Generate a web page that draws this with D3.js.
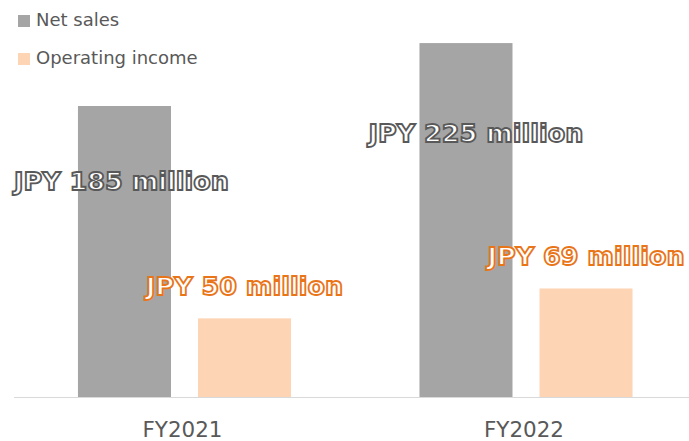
<!DOCTYPE html>
<html>
<head>
<meta charset="utf-8">
<script src="https://cdn.jsdelivr.net/npm/d3@7"></script>
<style>
  body { margin: 0; background: #fff; }
  svg { display: block; }
</style>
</head>
<body>
<svg id="chart"></svg>
<script>
// data
const categories = ['FY2021', 'FY2022'];
const seriesNames = ['Net sales', 'Operating income'];
const netSales = [185, 225];
const operatingIncome = [50, 69];
const labelTexts = [
  ['JPY 185 million', 'JPY 50 million'],
  ['JPY 225 million', 'JPY 69 million'],
];

// layout
const width = 689;
const height = 441;
const baseY = 397;
const colors = ['#a5a5a5', '#fdd5b4'];
const labelStroke = ['#595959', '#e97519'];
// manual label placement, relative to bar top (dx, dy)
const labelOffsets = [
  [[-3, 84], [0, -23]],
  [[10, 99], [0, -23]],
];

const svg = d3.select('#chart')
  .attr('width', width)
  .attr('height', height);

const x0 = d3.scaleBand()
  .domain(categories)
  .range([13.75, 696.75]);

const x1 = d3.scaleBand()
  .domain(seriesNames)
  .range([0, x0.bandwidth()])
  .paddingInner(0.225)
  .paddingOuter(0.535);

const y = d3.scaleLinear()
  .domain([0, 250])
  .range([baseY, baseY - 250 * 1.573]);

const rows = categories.map((c, i) => ({
  cat: c,
  values: [netSales[i], operatingIncome[i]],
}));

// bars
const group = svg.append('g').attr('class', 'bars');
rows.forEach((r, i) => {
  r.values.forEach((v, j) => {
    group.append('rect')
      .attr('x', x0(r.cat) + x1(seriesNames[j]))
      .attr('y', y(v))
      .attr('width', x1.bandwidth())
      .attr('height', y(0) - y(v))
      .style('fill', colors[j]);
  });
});

// baseline
svg.append('line')
  .attr('x1', 14).attr('x2', width)
  .attr('y1', baseY + 0.5).attr('y2', baseY + 0.5)
  .style('stroke', '#d9d9d9')
  .style('stroke-width', 1);

// category axis
const xAxis = d3.axisBottom(x0).tickSize(0).tickPadding(0);
const axisG = svg.append('g')
  .attr('transform', `translate(0, ${baseY})`)
  .call(xAxis);
axisG.select('.domain').remove();
axisG.selectAll('text')
  .attr('x', -2)
  .attr('y', 40)
  .attr('dy', 0)
  .attr('textLength', 80)
  .attr('lengthAdjust', 'spacingAndGlyphs')
  .style('font-family', '"DejaVu Sans", sans-serif')
  .style('font-size', '21px')
  .style('fill', '#595959');

// value labels
rows.forEach((r, i) => {
  r.values.forEach((v, j) => {
    const cx = x0(r.cat) + x1(seriesNames[j]) + x1.bandwidth() / 2;
    svg.append('text')
      .attr('x', cx + labelOffsets[i][j][0])
      .attr('y', y(v) + labelOffsets[i][j][1])
      .attr('text-anchor', 'middle')
      .style('font-family', '"DejaVu Sans", Verdana, sans-serif')
      .style('font-weight', 'bold')
      .style('font-size', '25.5px')
      .style('fill', '#fff')
      .style('stroke', labelStroke[j])
      .style('stroke-width', 1.8)
      .text(labelTexts[i][j]);
  });
});

// legend
const legend = svg.append('g').attr('class', 'legend');
seriesNames.forEach((s, j) => {
  const ly = 20 + j * 38;
  legend.append('rect')
    .attr('x', 18).attr('y', ly - 5)
    .attr('width', 12).attr('height', 12)
    .style('fill', colors[j]);
  legend.append('text')
    .attr('x', 36).attr('y', ly + 6)
    .style('font-family', '"DejaVu Sans", sans-serif')
    .style('font-size', '18px')
    .style('fill', '#595959')
    .text(s);
});
</script>
</body>
</html>
